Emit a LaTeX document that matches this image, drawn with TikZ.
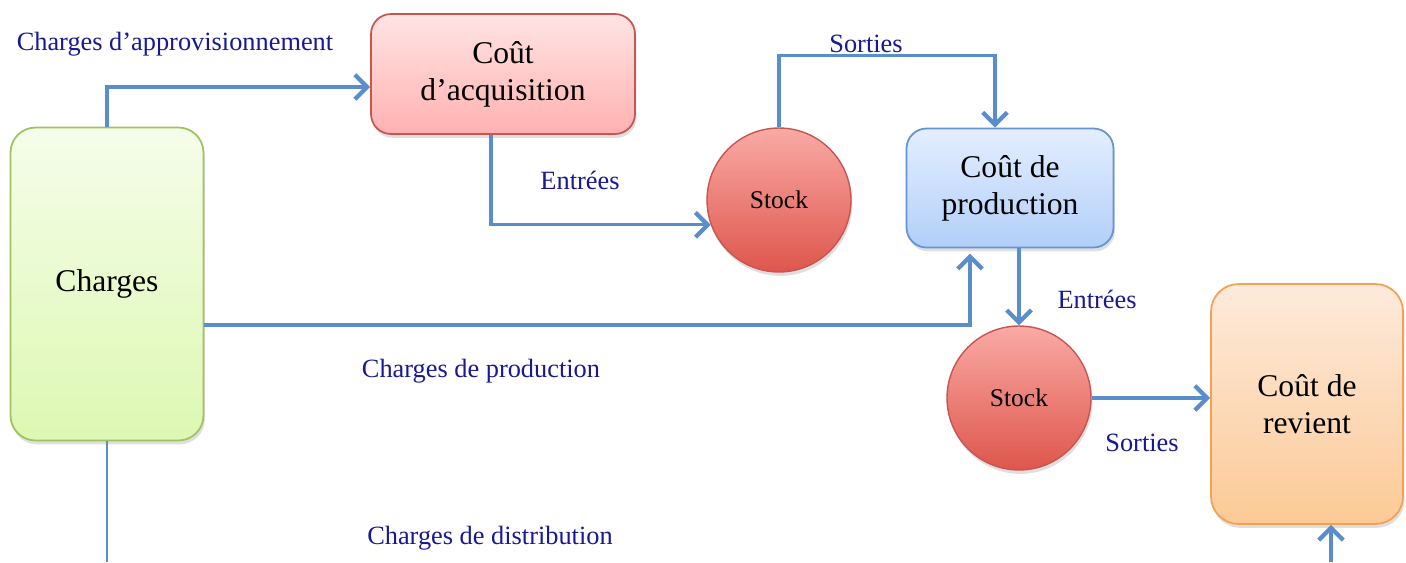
\documentclass[tikz,border=0pt]{standalone}
\usepackage{fontspec}
\setmainfont{Liberation Serif}
\usepackage{tikz}
\usetikzlibrary{arrows.meta, shadows}
\usepackage{xcolor}

\definecolor{fio}{RGB}{90,141,204}
\definecolor{azulrot}{RGB}{24,24,150}
\definecolor{bordaverde}{RGB}{160,195,95}
\definecolor{bordaverm}{RGB}{200,85,80}
\definecolor{bordaazul}{RGB}{100,148,210}
\definecolor{bordalaranja}{RGB}{247,160,80}

\begin{document}
\begin{tikzpicture}[x=0.02cm, y=-0.02cm,
    caixa/.style={draw, line width=1pt, inner sep=0pt, align=center,
        font=\fontsize{18}{21}\selectfont,
        drop shadow={opacity=0.25, shadow xshift=0.8pt, shadow yshift=-2.2pt}},
    estoque/.style={circle, draw=bordaverm, line width=0.8pt, inner sep=0pt,
        minimum size=2.88cm, top color={rgb,255:red,250;green,170;blue,165},
        bottom color={rgb,255:red,222;green,86;blue,76},
        font=\fontsize{14.5}{16}\selectfont,
        drop shadow={opacity=0.25, shadow xshift=0.8pt, shadow yshift=-2.2pt}},
    fluxo/.style={draw=fio, line width=1.8pt,
        -{Straight Barb[length=7pt, width=14pt, line width=2.4pt]}},
    linha/.style={draw=fio, line width=1.1pt},
    rotulo/.style={text=azulrot, font=\fontsize{15}{17}\selectfont}
]
    \useasboundingbox (0,0) rectangle (1406,562);

    % Caixas
    \node[caixa, draw=bordaverde, rounded corners=0.5cm,
        minimum width=3.86cm, minimum height=6.26cm,
        top color={rgb,255:red,245;green,253;blue,234},
        bottom color={rgb,255:red,221;green,248;blue,178}]
        (charges) at (107,284) {Charges};
    \node[caixa, draw=bordaverm, rounded corners=0.4cm,
        minimum width=5.28cm, minimum height=2.4cm,
        top color={rgb,255:red,255;green,228;blue,228},
        bottom color={rgb,255:red,255;green,178;blue,176}]
        (acq) at (503,74) {Coût\\d’acquisition};
    \node[caixa, draw=bordaazul, rounded corners=0.4cm,
        minimum width=4.14cm, minimum height=2.38cm,
        top color={rgb,255:red,228;green,238;blue,255},
        bottom color={rgb,255:red,178;green,207;blue,249}]
        (prod) at (1010,188) {Coût de\\production};
    \node[caixa, draw=bordalaranja, rounded corners=0.55cm,
        minimum width=3.84cm, minimum height=4.8cm,
        top color={rgb,255:red,253;green,234;blue,220},
        bottom color={rgb,255:red,252;green,202;blue,150}]
        (revient) at (1307,404) {Coût de\\revient};

    % Stocks
    \node[estoque] (stock1) at (779,200) {Stock};
    \node[estoque] (stock2) at (1019,398) {Stock};

    % Fluxos
    \draw[fluxo] (charges.north) |- ([yshift=-0.26cm]acq.west);
    \draw[fluxo] ([xshift=-0.24cm]acq.south) |- (stock1.200);
    \draw[fluxo] (stock1.north) -- ++(0,-72) -| ([xshift=-0.3cm]prod.north);
    \draw[fluxo, shorten >=3pt] ([yshift=-0.82cm]charges.east) -| ([xshift=-0.8cm]prod.south);
    \draw[fluxo] (prod.south -| stock2.north) -- (stock2.north);
    \draw[fluxo] (stock2.east) -- (stock2.east -| revient.west);
    \coordinate (fimdist) at (107,562);
    \draw[linha] (charges.south) -- (fimdist);
    \coordinate (baserev) at (1331,562);
    \draw[fluxo] (baserev) -- (baserev |- revient.south);

    % Rotulos
    \node[rotulo] (laprov) at (175,44) {Charges d’approvisionnement};
    \node[rotulo] (lentr1) at (580,180) {Entrées};
    \node[rotulo] (lsort1) at (866,44) {Sorties};
    \node[rotulo] (lprod) at (481,371) {Charges de production};
    \node[rotulo] (lentr2) at (1097,299) {Entrées};
    \node[rotulo] (lsort2) at (1142,443) {Sorties};
    \node[rotulo] (ldist) at (490,538) {Charges de distribution};
\end{tikzpicture}
\end{document}
